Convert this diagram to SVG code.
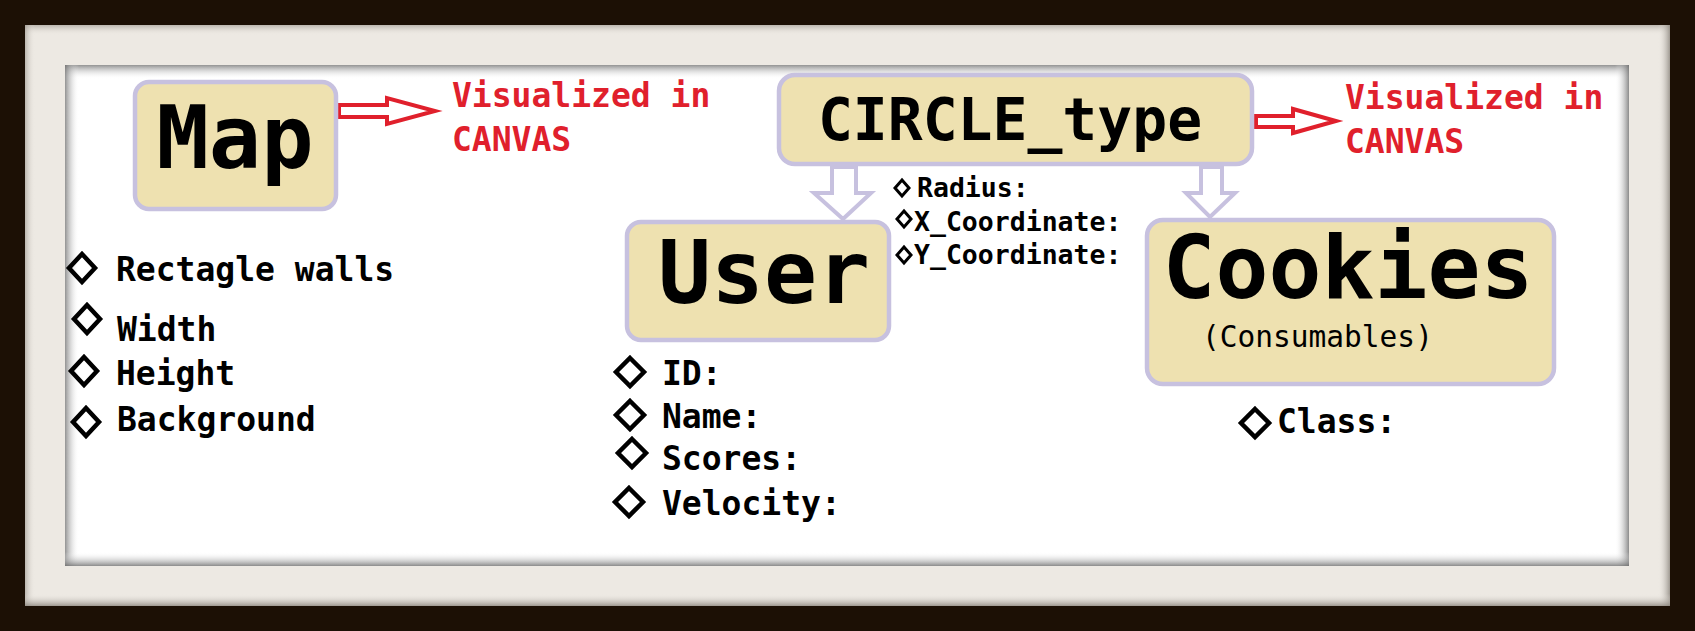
<svg xmlns="http://www.w3.org/2000/svg" width="1695" height="631" viewBox="0 0 1695 631">
<defs>
<linearGradient id="gT" x1="0" y1="0" x2="0" y2="1"><stop offset="0" stop-color="#6e6e6e" stop-opacity="0.75"/><stop offset="1" stop-color="#ffffff" stop-opacity="0"/></linearGradient>
<linearGradient id="gL" x1="0" y1="0" x2="1" y2="0"><stop offset="0" stop-color="#6e6e6e" stop-opacity="0.75"/><stop offset="1" stop-color="#ffffff" stop-opacity="0"/></linearGradient>
<linearGradient id="gR" x1="1" y1="0" x2="0" y2="0"><stop offset="0" stop-color="#6e6e6e" stop-opacity="0.8"/><stop offset="1" stop-color="#ffffff" stop-opacity="0"/></linearGradient>
<linearGradient id="gB" x1="0" y1="1" x2="0" y2="0"><stop offset="0" stop-color="#6e6e6e" stop-opacity="0.8"/><stop offset="1" stop-color="#ffffff" stop-opacity="0"/></linearGradient>
<linearGradient id="mT" x1="0" y1="0" x2="0" y2="1"><stop offset="0" stop-color="#9a948c" stop-opacity="0.6"/><stop offset="1" stop-color="#ede9e3" stop-opacity="0"/></linearGradient>
<linearGradient id="mL" x1="0" y1="0" x2="1" y2="0"><stop offset="0" stop-color="#9a948c" stop-opacity="0.6"/><stop offset="1" stop-color="#ede9e3" stop-opacity="0"/></linearGradient>
<linearGradient id="mR" x1="1" y1="0" x2="0" y2="0"><stop offset="0" stop-color="#8a847c" stop-opacity="0.8"/><stop offset="1" stop-color="#ede9e3" stop-opacity="0"/></linearGradient>
<linearGradient id="mB" x1="0" y1="1" x2="0" y2="0"><stop offset="0" stop-color="#8a847c" stop-opacity="0.8"/><stop offset="1" stop-color="#ede9e3" stop-opacity="0"/></linearGradient>
</defs>
<style>
.box{fill:#eee1b0;stroke:#c7c1df;stroke-width:4.5}
.big{font-family:"DejaVu Sans Mono","Liberation Mono",monospace;font-weight:bold;fill:#000;text-anchor:middle}
.t{font-family:"DejaVu Sans Mono","Liberation Mono",monospace;font-weight:bold;fill:#000}
.reg{font-family:"DejaVu Sans Mono","Liberation Mono",monospace;font-weight:normal;fill:#000}
.red{font-family:"DejaVu Sans Mono","Liberation Mono",monospace;font-weight:bold;fill:#e0202c;font-size:33px}
.dia{fill:none;stroke:#000;stroke-width:4.5;stroke-linejoin:miter}
.dia2{fill:none;stroke:#000;stroke-width:3}
.rarr{fill:#fff;stroke:#e0202c;stroke-width:4;stroke-linejoin:miter}
.parr{fill:#fff;stroke:#c7c1df;stroke-width:4;stroke-linejoin:miter}
</style>
<!-- frame -->
<rect x="0" y="0" width="1695" height="631" fill="#1c1005"/>
<rect x="25" y="25" width="1645" height="581" fill="#ede9e3"/>
<rect x="25" y="25" width="1645" height="10" fill="url(#mT)"/>
<rect x="25" y="25" width="10" height="581" fill="url(#mL)"/>
<rect x="1658" y="25" width="12" height="581" fill="url(#mR)"/>
<rect x="25" y="594" width="1645" height="12" fill="url(#mB)"/>
<rect x="65" y="65" width="1564" height="501" fill="#ffffff"/>
<rect x="65" y="65" width="1564" height="14" fill="url(#gT)"/>
<rect x="65" y="65" width="14" height="501" fill="url(#gL)"/>
<rect x="1615" y="65" width="14" height="501" fill="url(#gR)"/>
<rect x="65" y="552" width="1564" height="14" fill="url(#gB)"/>

<g id="connectors">
<polygon class="rarr" points="339,105 387,105 387,98 435,111 387,124 387,117 339,117"/>
<polygon class="rarr" points="1256,116 1293,116 1293,109 1336,121 1293,133 1293,127 1256,127"/>
<polygon class="parr" points="832,167 832,193 814,193 843,219 871,193 856,193 856,167"/>
<polygon class="parr" points="1201,167 1201,193 1186,193 1210,217 1235,193 1222,193 1222,167"/>
</g>

<g id="map">
<rect class="box" x="135" y="82" width="201" height="127" rx="14"/>
<text class="big" x="235" y="168" font-size="87">Map</text>
</g>
<g id="map-note">
<text class="red" x="452" y="107">Visualized in</text>
<text class="red" x="452" y="151">CANVAS</text>
</g>
<g id="map-attrs">
<polygon class="dia" points="82,254 95,268 82,282 69,268"/>
<text class="t" x="116" y="281" font-size="33">Rectagle walls</text>
<polygon class="dia" points="87,305 100,319 87,333 74,319"/>
<text class="t" x="117" y="341" font-size="33">Width</text>
<polygon class="dia" points="84,357 97,371 84,385 71,371"/>
<text class="t" x="116" y="385" font-size="33">Height</text>
<polygon class="dia" points="86,408 99,422 86,436 73,422"/>
<text class="t" x="117" y="431" font-size="33">Background</text>
</g>

<g id="circle-type">
<rect class="box" x="779" y="75" width="473" height="89" rx="16"/>
<text class="big" x="1010" y="140" font-size="58">CIRCLE_type</text>
</g>
<g id="circle-note">
<text class="red" x="1345" y="109">Visualized in</text>
<text class="red" x="1345" y="153">CANVAS</text>
</g>
<g id="circle-attrs">
<polygon class="dia2" points="902,180 909,188 902,196 895,188"/>
<text class="t" x="917" y="197" font-size="26.5">Radius:</text>
<polygon class="dia2" points="904,211 911,219 904,227 897,219"/>
<text class="t" x="914" y="231" font-size="26.5">X_Coordinate:</text>
<polygon class="dia2" points="904,247 911,255 904,263 897,255"/>
<text class="t" x="914" y="264" font-size="26.5">Y_Coordinate:</text>
</g>

<g id="user">
<rect class="box" x="627" y="222" width="262" height="118" rx="14"/>
<text class="big" x="764" y="303" font-size="88">User</text>
</g>
<g id="user-attrs">
<polygon class="dia" points="630,358 644,372 630,386 616,372"/>
<text class="t" x="662" y="385" font-size="33">ID:</text>
<polygon class="dia" points="630,401 644,415 630,429 616,415"/>
<text class="t" x="662" y="428" font-size="33">Name:</text>
<polygon class="dia" points="632,439 646,453 632,467 618,453"/>
<text class="t" x="662" y="470" font-size="33">Scores:</text>
<polygon class="dia" points="629,488 643,502 629,516 615,502"/>
<text class="t" x="662" y="515" font-size="33">Velocity:</text>
</g>

<g id="cookies">
<rect class="box" x="1147" y="220" width="407" height="164" rx="16"/>
<text class="big" x="1348" y="298" font-size="88">Cookies</text>
<text class="reg" x="1202" y="347" font-size="29.5">(Consumables)</text>
</g>
<g id="cookies-attrs">
<polygon class="dia" points="1255,409 1269,423 1255,437 1241,423"/>
<text class="t" x="1277" y="433" font-size="33">Class:</text>
</g>
</svg>
